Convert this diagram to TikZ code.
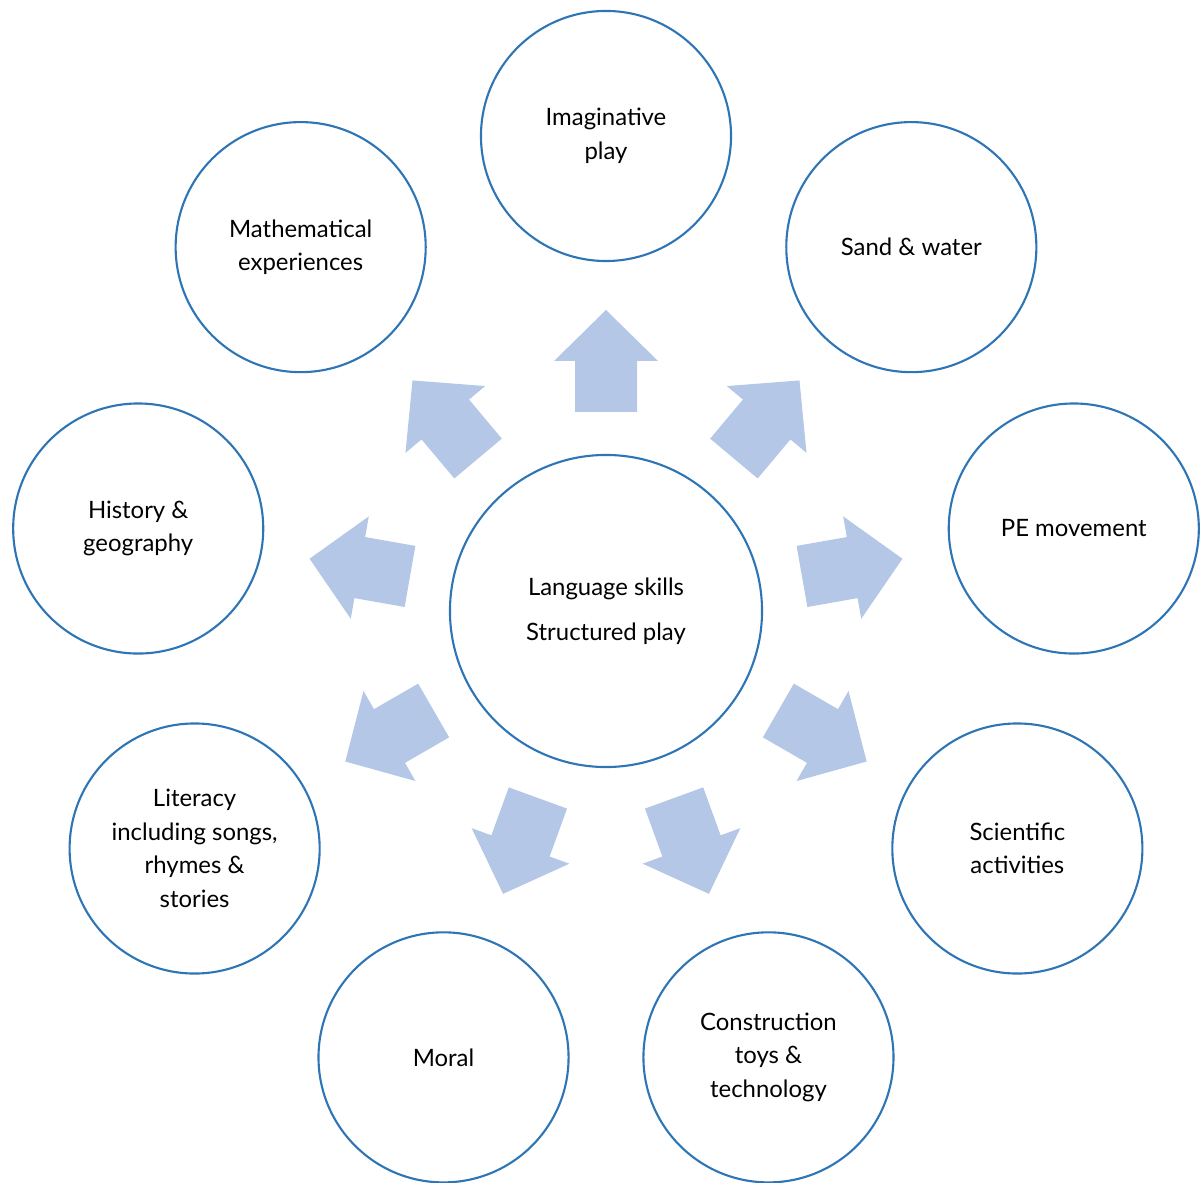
\documentclass[tikz,border=0pt]{standalone}
\usepackage{fontspec}
\setmainfont{Lato}
\definecolor{ringblue}{HTML}{2E75B6}
\definecolor{arrowblue}{HTML}{B4C7E7}
\tikzset{
  playarea/.style={circle,draw=ringblue,line width=1.5pt,minimum size=6.25cm,
    inner sep=0pt,align=center,font=\fontsize{17}{23.8}\selectfont},
  hub/.style={playarea,minimum size=7.8cm},
  pointer/.style={fill=arrowblue}
}
\begin{document}
\begin{tikzpicture}[x=0.025cm,y=0.025cm]
  \useasboundingbox (-606,-571) rectangle (594,611);
  \node[hub] (core) at (0,0) {Language skills\\[0.3cm]Structured play};
  \node[playarea] (imag) at (90:475) {Imaginative\\play};
  \node[playarea] (sand) at (50:475) {Sand \& water};
  \node[playarea] (pe) at (10:475) {PE movement};
  \node[playarea] (sci) at (-30:475) {Scientific\\activities};
  \node[playarea] (constr) at (-70:475) {Construction\\toys \&\\technology};
  \node[playarea] (moral) at (-110:475) {Moral};
  \node[playarea] (lit) at (-150:475) {Literacy\\including songs,\\rhymes \&\\stories};
  \node[playarea] (hist) at (170:475) {History \&\\geography};
  \node[playarea] (math) at (130:475) {Mathematical\\experiences};
  \foreach \a in {90,50,10,-30,-70,-110,-150,170,130}
    \fill[pointer,rotate=\a] (199,-31) -- ++(51,0) -- ++(0,-21) -- (301,0)
      -- (250,52) -- ++(0,-21) -- (199,31) -- cycle;
\end{tikzpicture}
\end{document}
